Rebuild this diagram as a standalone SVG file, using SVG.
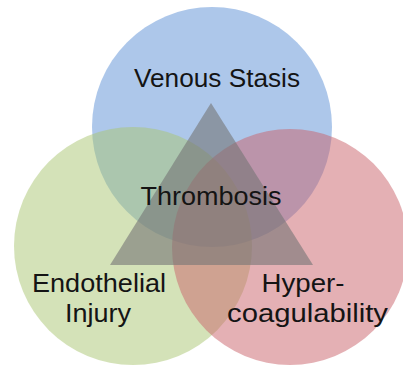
<svg xmlns="http://www.w3.org/2000/svg" width="403" height="367" viewBox="0 0 403 367">
<style>
text{font-family:"Liberation Sans",Arial,sans-serif;font-size:25.5px;fill:#141414;text-anchor:middle}
.c{fill-opacity:0.5}
</style>
<rect width="403" height="367" fill="#ffffff"/>
<g id="venous-stasis">
<circle class="c" cx="212" cy="127" r="120" fill="#5b8fd6"/>
<text x="217" y="87" textLength="166" lengthAdjust="spacingAndGlyphs">Venous Stasis</text>
</g>
<g id="endothelial-injury">
<circle class="c" cx="133" cy="246" r="119" fill="#a9c571"/>
<text x="99" y="292" textLength="134" lengthAdjust="spacingAndGlyphs">Endothelial</text>
<text x="98" y="322" textLength="66" lengthAdjust="spacingAndGlyphs">Injury</text>
</g>
<g id="hypercoagulability">
<circle class="c" cx="290" cy="247" r="118" fill="#c9616a"/>
<text x="303" y="292" textLength="83" lengthAdjust="spacingAndGlyphs">Hyper-</text>
<text x="307.5" y="322" textLength="161" lengthAdjust="spacingAndGlyphs">coagulability</text>
</g>
<g id="thrombosis">
<polygon points="211,103 110,265 313,265" fill="#757575" fill-opacity="0.6"/>
<text x="211" y="205" textLength="141" lengthAdjust="spacingAndGlyphs">Thrombosis</text>
</g>
<g id="connectors"></g>
</svg>
